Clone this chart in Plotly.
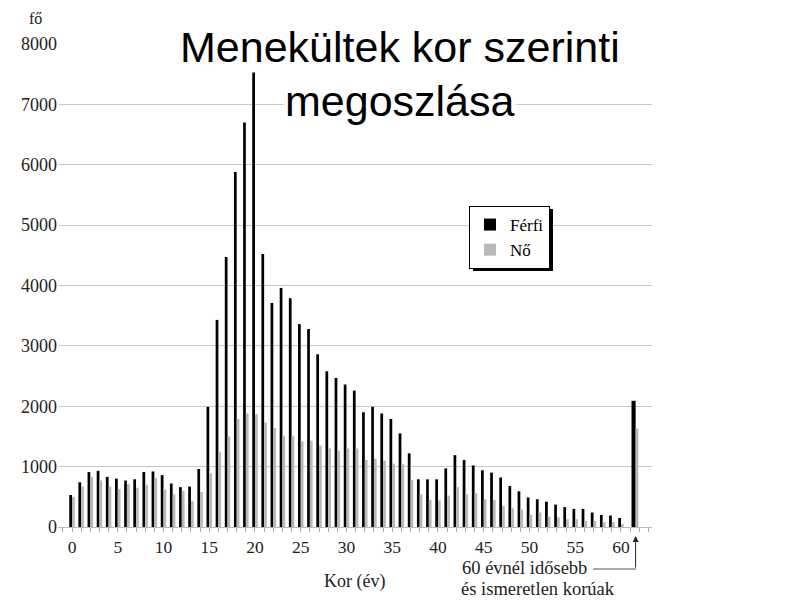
import plotly.graph_objects as go

# --- data -------------------------------------------------------------------
ages = list(range(61))
ferfi = [530, 740, 910, 930, 830, 800, 770, 790, 910, 920,
         860, 720, 660, 670, 960, 1990, 3430, 4470, 5880, 6700,
         7550, 4520, 3710, 3960, 3790, 3360, 3280, 2860, 2580, 2470,
         2360, 2260, 1900, 1990, 1880, 1790, 1550, 1220, 790, 790,
         790, 970, 1190, 1110, 1020, 940, 900, 820, 680, 590,
         490, 460, 420, 370, 330, 300, 300, 240, 200, 190, 150]
no = [500, 670, 830, 770, 670, 630, 710, 650, 700, 810,
      620, 540, 600, 430, 580, 890, 1240, 1500, 1790, 1880,
      1870, 1730, 1640, 1510, 1510, 1420, 1430, 1350, 1300, 1260,
      1300, 1300, 1110, 1130, 1100, 1050, 1040, 780, 540, 450,
      440, 520, 660, 540, 560, 460, 450, 350, 310, 290,
      200, 240, 170, 160, 130, 130, 100, 100, 80, 80, 50]
other_pos = 61.6          # position of the "older than 60 / unknown" group
other_ferfi = 2090
other_no = 1630

title_lines = ["Menekültek kor szerinti", "megoszlása"]
y_ticks = [0, 1000, 2000, 3000, 4000, 5000, 6000, 7000, 8000]
x_ticks = [0, 5, 10, 15, 20, 25, 30, 35, 40, 45, 50, 55, 60]

BLACK = "#000000"
GREY = "#b8b8b8"
SERIF = "Liberation Serif"
TXT = "#222222"

fig = go.Figure()
fig.add_trace(go.Bar(x=ages + [other_pos], y=ferfi + [other_ferfi], name="Férfi",
                     marker=dict(color=BLACK, line=dict(width=0)),
                     width=[0.3] * len(ages) + [0.45],
                     offset=[-0.3] * len(ages) + [-0.45]))
fig.add_trace(go.Bar(x=ages + [other_pos], y=no + [other_no], name="Nő",
                     marker=dict(color=GREY, line=dict(width=0)),
                     width=[0.3] * len(ages) + [0.3],
                     offset=[0.0] * len(ages) + [0.0]))

# page is shown with an 8px body margin
D = 8
W, H = 800, 600
L, T = 58 - D, 44 - D
R = W - (652 - D)
B = H - (527 - D)
pw, ph = W - L - R, H - T - B


def px(xs):
    return (xs - D - L) / pw


def py(ys):
    return (H - B - (ys - D)) / ph


fig.update_layout(
    width=W, height=H,
    margin=dict(l=L, r=R, t=T, b=B, pad=0),
    paper_bgcolor="white", plot_bgcolor="white",
    barmode="overlay",
    showlegend=True,
    legend=dict(x=px(469), y=py(206), xanchor="left", yanchor="top",
                bgcolor="white", bordercolor="black", borderwidth=1,
                font=dict(family=SERIF, size=17, color="black"),
                itemwidth=30, tracegroupgap=0),
    font=dict(family=SERIF, size=17, color="black"),
    xaxis=dict(range=[-1.53, 63.39], tickmode="array", tickvals=x_ticks,
               ticks="outside", ticklen=4, tickcolor="#aaaaaa",
               minor=dict(dtick=1, tick0=0, ticks="outside", ticklen=4, tickcolor="#aaaaaa"),
               showgrid=False, zeroline=False, showline=True, linecolor="#bbbbbb",
               tickfont=dict(family=SERIF, size=17.5, color=TXT)),
    yaxis=dict(range=[0, 8000], tickmode="array", tickvals=y_ticks,
               showgrid=True, gridcolor="#c8c8c8", gridwidth=1,
               zeroline=False, showline=False, ticks="",
               tickfont=dict(family=SERIF, size=18, color=TXT)),
)

# shadow of the legend box
fig.add_shape(type="rect", xref="paper", yref="paper",
              x0=px(473), x1=px(553), y0=py(271), y1=py(209),
              fillcolor="black", line=dict(width=0), layer="above")


def note(text, xs, ys, size, family=SERIF, bg=None, color=TXT, yanchor="middle"):
    kw = dict(bgcolor=bg) if bg else {}
    fig.add_annotation(text=text, xref="paper", yref="paper", x=px(xs), y=py(ys),
                       xanchor="center", yanchor=yanchor, showarrow=False,
                       font=dict(family=family, size=size, color=color), **kw)


# title lines with white background
note(title_lines[0], 400, 47, 43, family="Liberation Sans", bg="white", color="black")
note(title_lines[1], 400, 101, 43, family="Liberation Sans", bg="white", color="black")

# axis titles
note("fő", 35, 8, 16, yanchor="top")
note("Kor (év)", 354, 581, 18)

# note for the last group
note("60 évnél idősebb", 524, 567.5, 18.5)
note("és ismeretlen korúak", 538, 589, 18.5)
fig.add_annotation(text="", xref="x", yref="paper", x=other_pos, y=py(536),
                   ax=0, ay=33, showarrow=True, arrowhead=2, arrowsize=1.2,
                   arrowwidth=1, arrowcolor=TXT)
fig.add_shape(type="line", xref="paper", yref="paper",
              x0=px(593), x1=px(636), y0=py(569), y1=py(569),
              line=dict(color="#555555", width=1))

fig.write_html("out.html")
